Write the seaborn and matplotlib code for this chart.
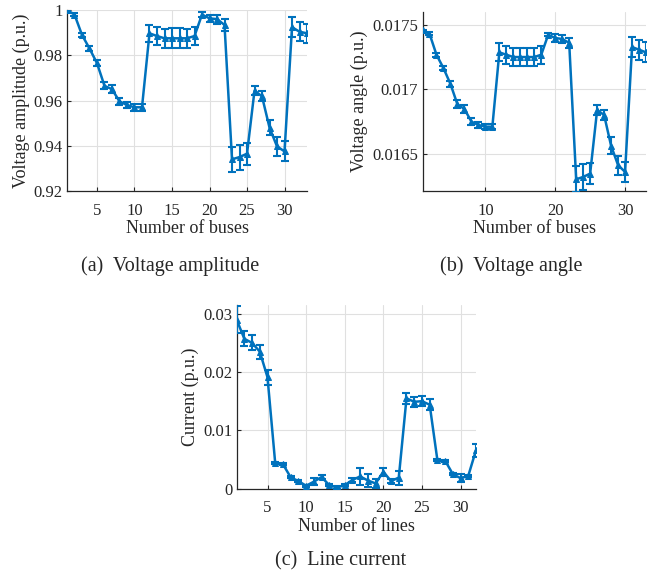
import numpy as np
import pandas as pd
import matplotlib
matplotlib.use("Agg")
import matplotlib.pyplot as plt
import seaborn as sns

# ---------------- data ----------------
buses = list(range(1, 34))
amp_mean = [1.0, 0.998, 0.989, 0.983, 0.9765, 0.9665, 0.965, 0.9596, 0.958, 0.957, 0.957,
            0.9897, 0.9885, 0.9875, 0.9875, 0.9875, 0.9875, 0.9885, 0.998, 0.9963, 0.996,
            0.9934, 0.934, 0.935, 0.9365, 0.9644, 0.9618, 0.948, 0.9397, 0.9375, 0.9924,
            0.9904, 0.9897]
amp_err = [0.0002, 0.0005, 0.0008, 0.001, 0.0012, 0.0015, 0.0018, 0.0015, 0.0015, 0.0015, 0.0015,
           0.0038, 0.004, 0.0043, 0.0044, 0.0044, 0.0043, 0.004, 0.001, 0.0015, 0.002,
           0.0025, 0.0054, 0.0055, 0.0048, 0.0021, 0.0022, 0.0033, 0.0043, 0.0044, 0.0045,
           0.0043, 0.0043]

ang_mean = [0.017456, 0.01743, 0.017267, 0.017163, 0.017041, 0.016883, 0.016847, 0.016749,
            0.016723, 0.01671, 0.01671, 0.017285, 0.017267, 0.017249, 0.017249, 0.017249,
            0.017249, 0.017267, 0.017422, 0.017396, 0.017389, 0.017358, 0.016303, 0.016321,
            0.016347, 0.016839, 0.0168, 0.016562, 0.016412, 0.01636, 0.017326, 0.017306,
            0.017285]
ang_err = [0.000005, 0.00001, 0.000015, 0.000018, 0.00002, 0.00003, 0.00003, 0.000025,
           0.00002, 0.00002, 0.00002, 0.00007, 0.00007, 0.000067, 0.000067, 0.000067,
           0.000067, 0.00007, 0.00001, 0.00003, 0.00003, 0.00004, 0.0001, 0.0001,
           0.000084, 0.000035, 0.00004, 0.000065, 0.000074, 0.000076, 0.000078, 0.000078,
           0.000078]

lines = list(range(1, 33))
cur_mean = [0.029, 0.0257, 0.025, 0.0235, 0.0191, 0.00435, 0.0042, 0.00195, 0.0013, 0.0005,
            0.0012, 0.0020, 0.0006, 0.0002, 0.0006, 0.0015, 0.0021, 0.0014, 0.0009, 0.0029,
            0.0013, 0.0019, 0.0155, 0.0149, 0.015, 0.0144, 0.0049, 0.0048, 0.0025, 0.0018,
            0.0022, 0.0066]
cur_err = [0.0023, 0.0013, 0.0013, 0.0012, 0.0013, 0.0002, 0.0002, 0.0002, 0.0002, 0.0002,
           0.00065, 0.0003, 0.0002, 0.0002, 0.0002, 0.0003, 0.0015, 0.0011, 0.0007, 0.0007,
           0.0003, 0.0012, 0.0009, 0.0009, 0.0009, 0.0009, 0.0002, 0.0002, 0.0002, 0.0007,
           0.0002, 0.0011]

# ---------------- style ----------------
sns.set_theme(style="whitegrid")
plt.rcParams['font.family'] = ['Liberation Serif', 'DejaVu Serif']
plt.rcParams['mathtext.fontset'] = 'stix'

BLUE = "#0072BD"
fig = plt.figure(figsize=(6.58, 5.76), dpi=100)

ax_a = fig.add_axes([0.1018, 0.6684, 0.3648, 0.3142])
ax_b = fig.add_axes([0.6421, 0.6679, 0.3397, 0.3118])
ax_c = fig.add_axes([0.3596, 0.1516, 0.3638, 0.3189])


def draw(ax, x, y, e, xlabel, ylabel):
    df = pd.DataFrame({"x": x, "y": y})
    sns.lineplot(data=df, x="x", y="y", ax=ax, color=BLUE, linewidth=1.8,
                 marker="^", markersize=4.8, markeredgecolor=BLUE, zorder=3)
    ax.errorbar(x, y, yerr=e, fmt="none", ecolor=BLUE, elinewidth=1.5,
                capsize=3, capthick=1.5, zorder=3)
    ax.set_xlabel(xlabel, fontsize=13, labelpad=1)
    ax.set_ylabel(ylabel, fontsize=13, labelpad=3)
    ax.grid(True, color="#e0e0e0", linewidth=0.8)
    ax.set_facecolor("white")
    for s in ["top", "right"]:
        ax.spines[s].set_visible(False)
    for s in ["left", "bottom"]:
        ax.spines[s].set_visible(True)
        ax.spines[s].set_color("#262626")
        ax.spines[s].set_linewidth(0.9)
    ax.tick_params(axis="both", direction="in", length=3, width=0.8, color="#262626",
                   labelsize=12, labelcolor="#262626", pad=3,
                   left=True, bottom=True)
    ax.tick_params(axis="x", pad=8.5)


draw(ax_a, buses, amp_mean, amp_err, "Number of buses", "Voltage amplitude (p.u.)")
ax_a.set_xlim(1, 33)
ax_a.set_ylim(0.92, 1.0)
ax_a.set_xticks([5, 10, 15, 20, 25, 30])
ax_a.set_yticks([0.92, 0.94, 0.96, 0.98, 1.0])
ax_a.set_yticklabels(["0.92", "0.94", "0.96", "0.98", "1"])

draw(ax_b, buses, ang_mean, ang_err, "Number of buses", "Voltage angle (p.u.)")
ax_b.set_xlim(1, 33)
ax_b.set_ylim(0.01621, 0.0176)
ax_b.set_xticks([10, 20, 30])
ax_b.set_yticks([0.0165, 0.017, 0.0175])
ax_b.set_yticklabels(["0.0165", "0.017", "0.0175"])

draw(ax_c, lines, cur_mean, cur_err, "Number of lines", "Current (p.u.)")
ax_c.set_xlim(1, 32)
ax_c.set_ylim(0, 0.0315)
ax_c.set_xticks([5, 10, 15, 20, 25, 30])
ax_c.set_yticks([0, 0.01, 0.02, 0.03])
ax_c.set_yticklabels(["0", "0.01", "0.02", "0.03"])

fig.text(170 / 658, 1 - 266 / 576, "(a)  Voltage amplitude", ha="center", va="center", fontsize=14.5)
fig.text(511 / 658, 1 - 266 / 576, "(b)  Voltage angle", ha="center", va="center", fontsize=14.5)
fig.text(341 / 658, 1 - 561 / 576, "(c)  Line current", ha="center", va="center", fontsize=14.5)

fig.savefig("out.png", dpi=100)
